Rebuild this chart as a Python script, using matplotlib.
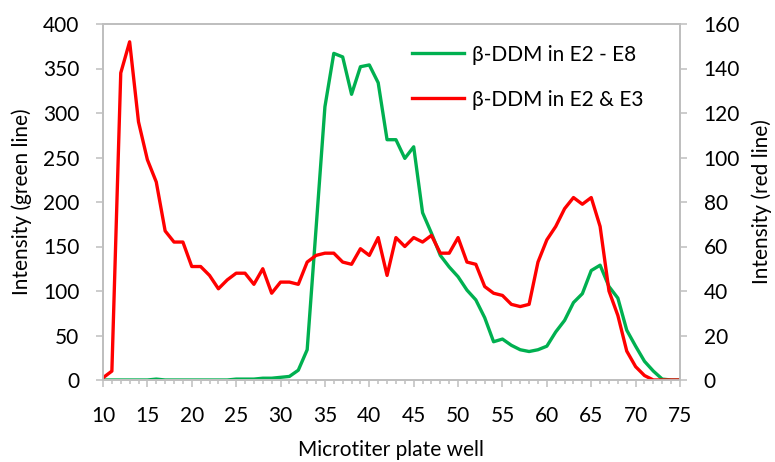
import numpy as np
import matplotlib
matplotlib.use('Agg')
import matplotlib.pyplot as plt
from matplotlib.ticker import MultipleLocator

plt.rcParams['font.family'] = ['Lato', 'DejaVu Sans']

wells = list(range(10, 76))

# beta-DDM in E2 - E8 (left axis)
green = [0, 0, 0, 0, 0, 0, 1, 0, 0, 0,
         0, 0, 0, 0, 0, 1, 1, 1, 2, 2,
         3, 4, 11, 34, 170, 307, 367, 363, 321, 352,
         354, 334, 270, 270, 249, 262, 188, 165, 140, 127,
         116, 101, 90, 70, 43, 46, 39, 34, 32, 34,
         38, 54, 67, 87, 97, 123, 129, 105, 92, 56,
         38, 21, 10, 1, 0, 0]

# beta-DDM in E2 & E3 (right axis)
red = [1, 4, 138, 152, 116, 99, 89, 67, 62, 62,
       51, 51, 47, 41, 45, 48, 48, 43, 50, 39,
       44, 44, 43, 53, 56, 57, 57, 53, 52, 59,
       56, 64, 47, 64, 60, 64, 62, 65, 57, 57,
       64, 53, 52, 42, 39, 38, 34, 33, 34, 53,
       63, 69, 77, 82, 79, 82, 69, 40, 29, 13,
       6, 2, 0, 0, 0, 0]

GREEN = '#00B050'
RED = '#FF0000'
GRAY = '#BFBFBF'

fig = plt.figure(figsize=(7.75, 4.62), dpi=100)
ax = fig.add_axes([103/775, 1 - 380/462, 577/775, 356/462])
ax2 = ax.twinx()

l1, = ax.plot(wells, green, color=GREEN, lw=2.4, solid_joinstyle='round')
l2, = ax2.plot(wells, red, color=RED, lw=2.4, solid_joinstyle='round')

ax.set_xlim(10, 75)
ax.set_ylim(0, 400)
ax2.set_ylim(0, 160)
ax.xaxis.set_major_locator(MultipleLocator(5))
ax.xaxis.set_minor_locator(MultipleLocator(1))
ax.yaxis.set_major_locator(MultipleLocator(50))
ax2.yaxis.set_major_locator(MultipleLocator(20))

for a in (ax, ax2):
    for s in a.spines.values():
        s.set_color(GRAY)
        s.set_linewidth(1.3)
    a.tick_params(which='both', color=GRAY, width=1.1, labelsize=15, direction='out')

ax.tick_params(axis='x', which='major', length=5, pad=14)
ax.tick_params(axis='x', which='minor', length=3)
ax.tick_params(axis='y', length=5, pad=12)
ax2.tick_params(axis='y', length=5, pad=12)

ax.set_xlabel('Microtiter plate well', fontsize=15, labelpad=10)
ax.set_ylabel('Intensity (green line)', fontsize=15, labelpad=8)
ax2.set_ylabel('Intensity (red line)', fontsize=15, labelpad=8)

ax2.legend([l1, l2], ['β-DDM in E2 - E8', 'β-DDM in E2 & E3'],
           loc='upper right', bbox_to_anchor=(0.97, 0.995), frameon=False,
           fontsize=15, handlelength=2.5, handletextpad=0.4, labelspacing=1.2)

fig.savefig('out.png', dpi=100)
